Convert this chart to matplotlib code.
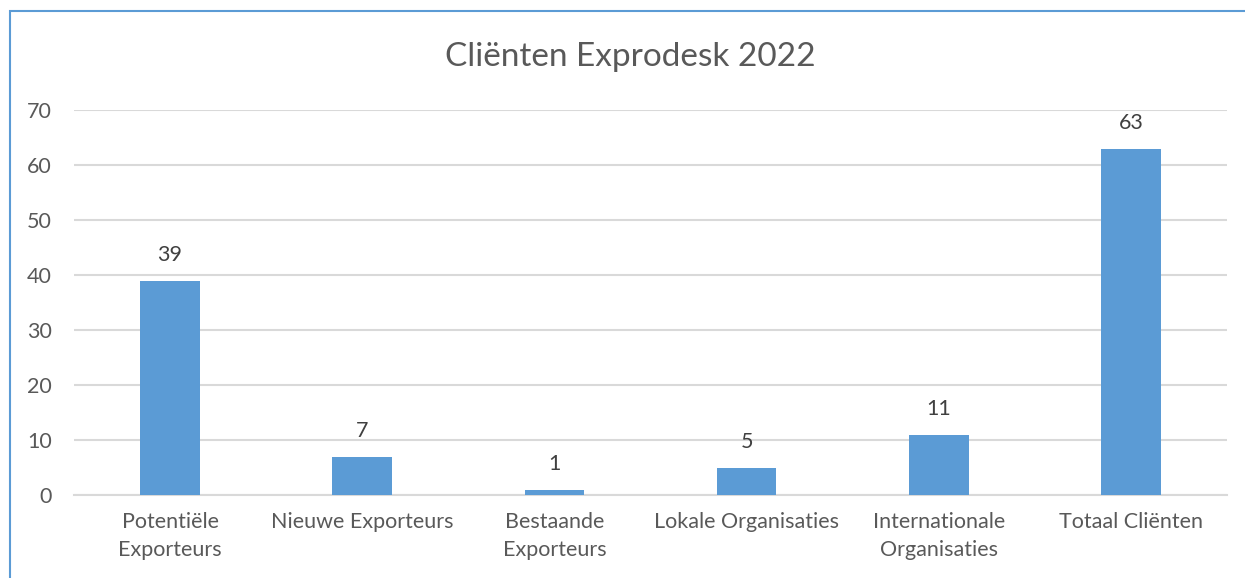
import matplotlib
matplotlib.use("Agg")
import matplotlib.pyplot as plt
from matplotlib.patches import Rectangle

categories = ["Potentiële\nExporteurs", "Nieuwe Exporteurs", "Bestaande\nExporteurs",
              "Lokale Organisaties", "Internationale\nOrganisaties", "Totaal Cliënten"]
values = [39, 7, 1, 5, 11, 63]
yticks = [0, 10, 20, 30, 40, 50, 60, 70]
title = "Cliënten Exprodesk 2022"

plt.rcParams['font.family'] = ['Lato', 'DejaVu Sans']

W, H = 1245, 578
fig = plt.figure(figsize=(W / 100, H / 100), dpi=100)
fig.patch.set_facecolor("white")

ax = fig.add_axes([74 / W, 1 - 495 / H, (1227 - 74) / W, (495 - 110) / H])
x = range(len(categories))
bars = ax.bar(x, values, width=0.31, color="#5b9bd5", zorder=3)
ax.set_xlim(-0.5, len(categories) - 0.5)
ax.set_ylim(0, 70)
ax.set_yticks(yticks)
ax.set_xticks(list(x))
ax.set_xticklabels(categories, fontsize=15.5, color="#595959", linespacing=1.45)
ax.tick_params(axis='y', labelsize=15.5, labelcolor="#595959", length=0, pad=16)
ax.tick_params(axis='x', length=0, pad=12.5)
ax.grid(axis='y', color="#d9d9d9", linewidth=1.5, zorder=0)
for s in ["top", "right", "left"]:
    ax.spines[s].set_visible(False)
ax.spines["bottom"].set_color("#d9d9d9")
ax.spines["bottom"].set_linewidth(1.5)

for b, v in zip(bars, values):
    ax.annotate(str(v), (b.get_x() + b.get_width() / 2, v), xytext=(0, 11),
                textcoords="offset points", ha="center", va="bottom",
                fontsize=15.5, color="#404040")

fig.text(630 / W, 1 - 57 / H, title, ha="center", va="center", fontsize=24, color="#595959")

fig.add_artist(Rectangle((10 / W, -0.1), 1.2, (1 - 11 / H) + 0.1, transform=fig.transFigure,
                         fill=False, edgecolor="#5b9bd5", linewidth=1.5))

fig.savefig("out.png", dpi=100)
